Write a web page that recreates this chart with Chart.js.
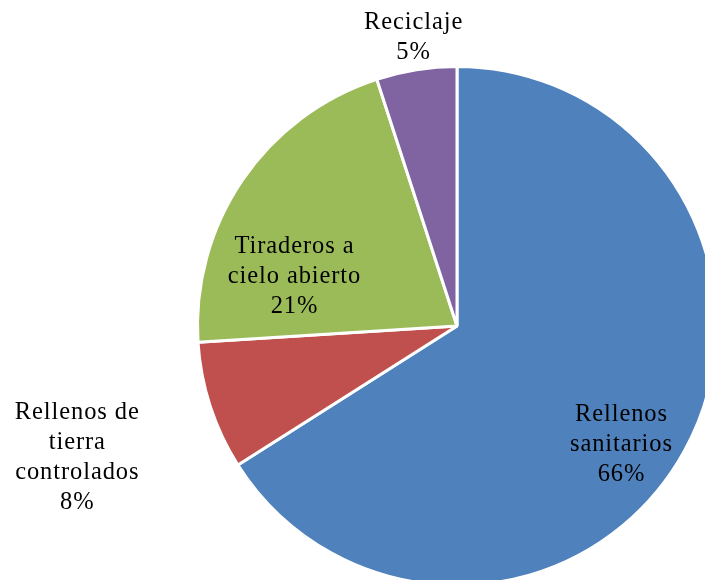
<!DOCTYPE html>
<html>
<head>
<meta charset="utf-8">
<script src="https://cdn.jsdelivr.net/npm/chart.js@4/dist/chart.umd.min.js"></script>
<style>
  html, body { margin: 0; padding: 0; background: #fff; overflow: hidden; width: 705px; height: 580px; }
  #wrap { position: absolute; left: 0; top: 0; width: 760px; height: 640px; }
  #pre { position: absolute; left: -1000px; top: 0; font-family: "Liberation Serif"; font-size: 25px; }
</style>
</head>
<body>
<div id="pre">Reciclaje 5%</div>
<div id="wrap"><canvas id="c" width="760" height="640"></canvas></div>
<script>
const categories = ["Rellenos sanitarios", "Rellenos de tierra controlados", "Tiraderos a cielo abierto", "Reciclaje"];
const values = [66, 8, 21, 5];
const labelLines = [
  ["Rellenos", "sanitarios"],
  ["Rellenos de", "tierra", "controlados"],
  ["Tiraderos a", "cielo abierto"],
  ["Reciclaje"]
];
const colors = ["#4F81BD", "#C0504D", "#9BBB59", "#8064A2"];

// label block centres expressed relative to pie centre, in units of the radius
const labelAnchors = [
  [0.632, 0.455],
  [-1.465, 0.506],
  [-0.628, -0.19],
  [-0.169, -1.11]
];

const total = values.reduce((a, b) => a + b, 0);

const labelPlugin = {
  id: 'sliceLabels',
  afterDatasetsDraw(chart) {
    const ctx = chart.ctx;
    const meta = chart.getDatasetMeta(0);
    ctx.save();
    ctx.font = '24.5px "Liberation Serif"';
    ctx.fillStyle = '#000';
    ctx.textAlign = 'left';
    ctx.textBaseline = 'middle';
    if ('letterSpacing' in ctx) ctx.letterSpacing = '0.9px';
    const lh = 30;
    meta.data.forEach((arc, i) => {
      const p = arc.getProps(['x', 'y', 'outerRadius'], true);
      const lines = labelLines[i].concat([Math.round(values[i] / total * 100) + '%']);
      const cx = p.x + labelAnchors[i][0] * p.outerRadius;
      const cy = p.y + labelAnchors[i][1] * p.outerRadius;
      const startY = cy - (lines.length - 1) * lh / 2;
      lines.forEach((t, k) => {
        const w = ctx.measureText(t).width - ('letterSpacing' in ctx ? 0.9 : 0);
        ctx.fillText(t, cx - w / 2, startY + k * lh);
      });
    });
    ctx.restore();
  }
};

function draw() {
  new Chart(document.getElementById('c'), {
    type: 'pie',
    data: {
      labels: categories,
      datasets: [{
        data: values,
        backgroundColor: colors,
        borderColor: '#ffffff',
        borderWidth: 3
      }]
    },
    options: {
      responsive: false,
      animation: false,
      layout: { padding: { left: 196, top: 65, right: 42, bottom: 53 } },
      plugins: {
        legend: { display: false },
        tooltip: { enabled: false }
      }
    },
    plugins: [labelPlugin]
  });
}
if (document.fonts && document.fonts.load) {
  document.fonts.load('25px "Liberation Serif"').then(draw, draw);
} else {
  draw();
}
</script>
</body>
</html>
